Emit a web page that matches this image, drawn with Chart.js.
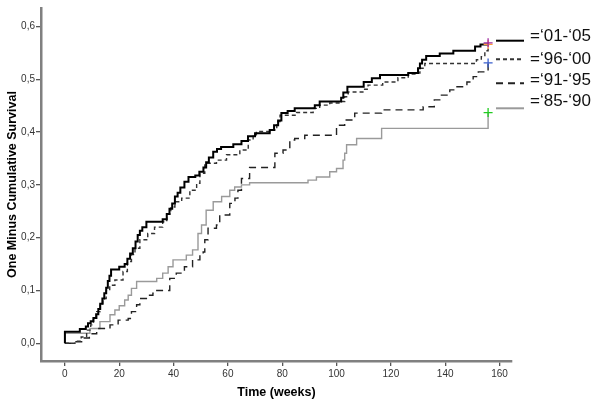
<!DOCTYPE html>
<html>
<head>
<meta charset="utf-8">
<script src="https://cdn.jsdelivr.net/npm/chart.js@4"></script>
<style>
  body { margin: 0; background: #fff; }
</style>
</head>
<body>
<canvas id="myChart" width="600" height="403"></canvas>
<script>
// series names (legend order)
const seriesNames = ["=\u201801-\u201805", "=\u201896-\u201800", "=\u201891-\u201895", "=\u201885-\u201890"];

// '01-'05
const weeks0105 = [0, 0, 5.5, 7.7, 8.5, 9.5, 10.5, 11.5, 12.3, 13, 13.8, 14.5, 15.2, 15.8, 16.4, 17, 20, 22, 23, 24, 25, 26, 26.8, 27.6, 28.5, 30, 36, 37.5, 38.5, 39.5, 40.5, 41.5, 42.5, 44, 45.5, 48, 49.5, 51, 52, 53, 54.6, 56, 57.5, 62, 65, 67.4, 70, 75.4, 77, 78.5, 79.7, 82, 84.6, 92, 93.8, 101.7, 102.5, 104, 110, 113, 116, 126.4, 130, 130.7, 131.5, 133, 138, 143, 151, 153, 155.8];
const surv0105 = [0, 0.022, 0.027, 0.032, 0.038, 0.042, 0.048, 0.055, 0.065, 0.075, 0.085, 0.095, 0.105, 0.118, 0.128, 0.14, 0.145, 0.15, 0.16, 0.17, 0.18, 0.193, 0.205, 0.213, 0.22, 0.23, 0.235, 0.245, 0.255, 0.265, 0.278, 0.285, 0.295, 0.306, 0.315, 0.318, 0.325, 0.333, 0.343, 0.352, 0.363, 0.368, 0.372, 0.377, 0.383, 0.392, 0.398, 0.404, 0.413, 0.422, 0.436, 0.44, 0.445, 0.451, 0.458, 0.465, 0.475, 0.486, 0.495, 0.502, 0.508, 0.512, 0.521, 0.53, 0.537, 0.544, 0.549, 0.554, 0.562, 0.566, 0.569];

// '96-'00
const weeks9600 = [0, 3.7, 6, 8, 9.5, 10.5, 11.7, 13, 14, 15.2, 16.5, 18.4, 21.4, 23, 24.5, 25.8, 27.6, 30.5, 33, 36, 37.5, 39, 40.5, 43, 46, 48.5, 49.7, 51.5, 55.8, 59.5, 64.4, 67.5, 69.3, 70.5, 75.5, 78, 79.2, 85.3, 91.4, 93.8, 97.5, 101.2, 103, 104.3, 109.7, 111.6, 117, 122.6, 126.4, 129.4, 130.7, 132.5, 151.5, 153.3, 154.6, 155.8];
const surv9600 = [0, 0.004, 0.012, 0.025, 0.035, 0.045, 0.06, 0.075, 0.085, 0.1, 0.11, 0.12, 0.136, 0.155, 0.168, 0.18, 0.196, 0.208, 0.22, 0.23, 0.245, 0.258, 0.268, 0.275, 0.29, 0.303, 0.322, 0.341, 0.347, 0.357, 0.366, 0.385, 0.395, 0.401, 0.404, 0.42, 0.432, 0.437, 0.445, 0.451, 0.455, 0.458, 0.467, 0.476, 0.481, 0.489, 0.495, 0.503, 0.51, 0.512, 0.521, 0.53, 0.537, 0.543, 0.554, 0.565];

// '91-'95
const weeks9195 = [0, 3.7, 6.7, 9, 11.7, 16.6, 19.6, 23.3, 24.5, 26.4, 27.6, 30, 32.4, 33, 38.6, 41, 44, 47, 49.7, 50.9, 51.5, 52.7, 55.8, 57, 60.7, 62.6, 63.7, 65, 68, 77.3, 80.3, 82.8, 84.6, 88.3, 100, 103, 106.7, 116.6, 131.9, 136, 138, 141.7, 144, 148, 150.3, 152.2, 155.8];
const surv9195 = [0, 0.003, 0.01, 0.018, 0.028, 0.035, 0.044, 0.047, 0.06, 0.073, 0.085, 0.091, 0.095, 0.1, 0.123, 0.133, 0.145, 0.158, 0.167, 0.173, 0.196, 0.218, 0.224, 0.243, 0.265, 0.275, 0.29, 0.312, 0.333, 0.36, 0.366, 0.385, 0.388, 0.394, 0.413, 0.423, 0.436, 0.442, 0.448, 0.461, 0.47, 0.48, 0.486, 0.495, 0.505, 0.514, 0.531];

// '85-'90
const weeks8590 = [0, 0, 9.2, 12.9, 16.6, 18.4, 20, 22, 23.3, 24.5, 26.4, 33.8, 36, 38, 39.8, 44.7, 47, 49, 50.3, 52, 54.6, 57.7, 60.7, 62.5, 65, 68, 89.5, 92.6, 97.5, 100, 102.4, 103, 103.7, 107.4, 116.6, 155.8];
const surv8590 = [0, 0.019, 0.028, 0.041, 0.054, 0.063, 0.071, 0.082, 0.091, 0.104, 0.117, 0.123, 0.133, 0.145, 0.158, 0.167, 0.177, 0.208, 0.224, 0.252, 0.268, 0.278, 0.29, 0.296, 0.3, 0.304, 0.309, 0.315, 0.325, 0.331, 0.347, 0.36, 0.376, 0.388, 0.407, 0.437];

// censored marks at end of follow-up ('01-'05, '96-'00, '91-'95, '85-'90)
const censorWeeks = [155.8, 155.8, 155.8, 155.8];
const censorValues = [0.569, 0.566, 0.531, 0.437];

// tick labels
const xTicks = [0, 20, 40, 60, 80, 100, 120, 140, 160];
const yTicks = [0, 0.1, 0.2, 0.3, 0.4, 0.5, 0.6];

function toPoints(w, v) {
  return w.map((x, i) => ({ x: x, y: v[i] }));
}

const lineColors = ["#000000", "#333333", "#222222", "#9a9a9a"];
const lineWidths = [2, 1.4, 1.4, 1.4];
const lineDashes = [[], [4, 3], [7, 5], []];
const crossColors = ["#a02ca0", "#ff9a3c", "#3a5fcd", "#22cc22"];

const sideLegend = {
  id: "sideLegend",
  afterDraw(chart) {
    const ctx = chart.ctx;
    const lineY = [40.7, 59.3, 83.3, 108.3];
    const textY = [36, 59, 80, 101];
    ctx.save();
    for (let i = 0; i < seriesNames.length; i++) {
      ctx.beginPath();
      ctx.strokeStyle = lineColors[i];
      ctx.lineWidth = 2;
      ctx.setLineDash(lineDashes[i]);
      ctx.moveTo(496, lineY[i]);
      ctx.lineTo(524, lineY[i]);
      ctx.stroke();
      ctx.setLineDash([]);
      ctx.fillStyle = "#111";
      ctx.font = "17px Arial, 'Liberation Sans', sans-serif";
      ctx.textBaseline = "middle";
      ctx.textAlign = "left";
      ctx.fillText(seriesNames[i], 530, textY[i]);
    }
    ctx.restore();
  }
};

const curves = [
  toPoints(weeks0105, surv0105),
  toPoints(weeks9600, surv9600),
  toPoints(weeks9195, surv9195),
  toPoints(weeks8590, surv8590)
];

const datasets = [];
// censor crosses on top
censorWeeks.forEach((w, i) => {
  datasets.push({
    type: "scatter",
    data: [{ x: w, y: censorValues[i] }],
    pointStyle: "cross",
    pointRadius: 4.5,
    pointBorderWidth: 1.3,
    borderColor: crossColors[i],
    backgroundColor: crossColors[i],
    showLine: false
  });
});
curves.forEach((pts, i) => {
  datasets.push({
    type: "line",
    label: seriesNames[i],
    data: pts,
    stepped: "before",
    borderColor: lineColors[i],
    borderWidth: lineWidths[i],
    borderDash: lineDashes[i],
    pointRadius: 0,
    fill: false,
    tension: 0
  });
});

let ctx = document.getElementById("myChart").getContext("2d");

let kmChart = new Chart(ctx, {
  data: { datasets: datasets },
  options: {
    responsive: false,
    animation: false,
    layout: { padding: { top: 8, right: 88, left: 0, bottom: 0 } },
    plugins: {
      legend: { display: false },
      tooltip: { enabled: false }
    },
    scales: {
      x: {
        type: "linear",
        min: -8.8,
        max: 164.6,
        afterBuildTicks: (scale) => { scale.ticks = xTicks.map(v => ({ value: v })); },
        afterFit: (scale) => { scale.height = 42; },
        ticks: {
          color: "#333",
          font: { family: "Arial, 'Liberation Sans', sans-serif", size: 10 },
          padding: 2,
          maxRotation: 0
        },
        grid: { drawOnChartArea: false, drawTicks: true, tickLength: 5, color: "#555", lineWidth: 1.3 },
        border: { color: "#808080", width: 2.5 },
        title: {
          display: true,
          text: "Time (weeks)",
          color: "#000",
          font: { family: "Arial, 'Liberation Sans', sans-serif", size: 12.5, weight: "bold" },
          padding: { top: 0, bottom: 3 }
        }
      },
      y: {
        type: "linear",
        min: -0.0335,
        max: 0.635,
        afterBuildTicks: (scale) => { scale.ticks = yTicks.map(v => ({ value: v })); },
        afterFit: (scale) => { scale.width = 41; },
        ticks: {
          color: "#333",
          font: { family: "Arial, 'Liberation Sans', sans-serif", size: 10 },
          padding: 1,
          callback: (v) => v.toFixed(1).replace(".", ",")
        },
        grid: { drawOnChartArea: false, drawTicks: true, tickLength: 5, color: "#555", lineWidth: 1.3 },
        border: { color: "#808080", width: 2.5 },
        title: {
          display: true,
          text: "One Minus Cumulative Survival",
          color: "#000",
          font: { family: "Arial, 'Liberation Sans', sans-serif", size: 12.5, weight: "bold" },
          padding: { top: 5, bottom: 0 }
        }
      }
    }
  },
  plugins: [sideLegend]
});
</script>
</body>
</html>
